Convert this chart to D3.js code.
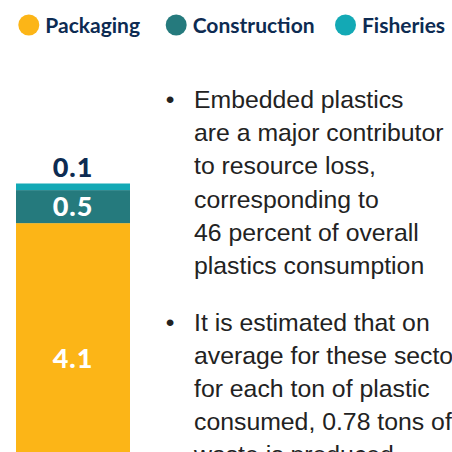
<!DOCTYPE html>
<html>
<head>
<meta charset="utf-8">
<script src="https://cdn.jsdelivr.net/npm/d3@7"></script>
<style>
  html, body { margin: 0; padding: 0; background: #ffffff; }
  svg { display: block; }
</style>
</head>
<body>
<script>
// ---- data ----
const categories = ["Plastics"];
const seriesNames = ["Packaging", "Construction", "Fisheries"];
const packaging = [4.1];
const construction = [0.5];
const fisheries = [0.1];
const seriesColors = ["#FCB517", "#257A7D", "#13A9B5"];
const bulletOne = ["Embedded plastics", "are a major contributor", "to resource loss,", "corresponding to", "46 percent of overall", "plastics consumption"];
const bulletTwo = ["It is estimated that on", "average for these sectors,", "for each ton of plastic", "consumed, 0.78 tons of", "waste is produced."];

const W = 452, H = 452;
const navy = "#0D2B52";
const svg = d3.select("body").append("svg").attr("width", W).attr("height", H);

// ---- legend ----
const legendX = [28.8, 176.2, 345.5];
const legend = svg.append("g").attr("class", "legend");
seriesNames.forEach((name, i) => {
  const g = legend.append("g").attr("transform", `translate(${legendX[i]},25)`);
  g.append("circle").attr("r", 10.5).attr("fill", seriesColors[i]);
  g.append("text").attr("x", 16.5).attr("y", 7.5)
    .attr("font-family", "Lato, 'Noto Sans', sans-serif").attr("font-weight", 700)
    .attr("font-size", 21).attr("fill", navy).text(name);
});

// ---- stacked bar ----
const rows = categories.map((c, i) => ({ cat: c, Packaging: packaging[i], Construction: construction[i], Fisheries: fisheries[i] }));
const stack = d3.stack().keys(seriesNames)(rows);
const total = d3.max(stack[stack.length - 1], d => d[1]);
const x = d3.scaleBand().domain(categories).range([16, 130]).padding(0);
const y = d3.scaleLinear().domain([0, total]).range([494, 183.5]);

const bars = svg.append("g");
stack.forEach((layer, i) => {
  bars.selectAll(null).data(layer).enter().append("rect")
    .attr("x", d => x(d.data.cat))
    .attr("width", x.bandwidth())
    .attr("y", d => y(d[1]))
    .attr("height", d => y(d[0]) - y(d[1]))
    .attr("fill", seriesColors[i]);
});

// value labels
const labelFont = "Lato, 'Noto Sans', sans-serif";
stack.forEach((layer, i) => {
  layer.forEach(d => {
    const v = d[1] - d[0];
    const h = y(d[0]) - y(d[1]);
    const inside = h > 25;
    const cy = inside ? (y(d[0]) + y(d[1])) / 2 : y(d[1]) - 16;
    svg.append("text")
      .attr("x", x(d.data.cat) + x.bandwidth() / 2)
      .attr("y", cy)
      .attr("dy", "0.36em")
      .attr("text-anchor", "middle")
      .attr("font-family", labelFont).attr("font-weight", 900)
      .attr("font-size", 27).attr("letter-spacing", 1)
      .attr("fill", inside ? "#ffffff" : navy)
      .text(d3.format(".1f")(v));
  });
});

// ---- bullet text ----
const textFont = "'Liberation Sans', Arial, sans-serif";
function paragraph(lines, firstBaseline) {
  const g = svg.append("g");
  g.append("text").attr("x", 170).attr("y", firstBaseline).attr("text-anchor", "middle")
    .attr("font-family", textFont).attr("font-size", 24.8).attr("fill", "#222222").text("•");
  lines.forEach((ln, i) => {
    g.append("text").attr("x", 194).attr("y", firstBaseline + i * 33.2)
      .attr("font-family", textFont).attr("font-size", 24.8).attr("fill", "#222222").text(ln);
  });
}
paragraph(bulletOne, 108);
paragraph(bulletTwo, 330.5);
</script>
</body>
</html>
